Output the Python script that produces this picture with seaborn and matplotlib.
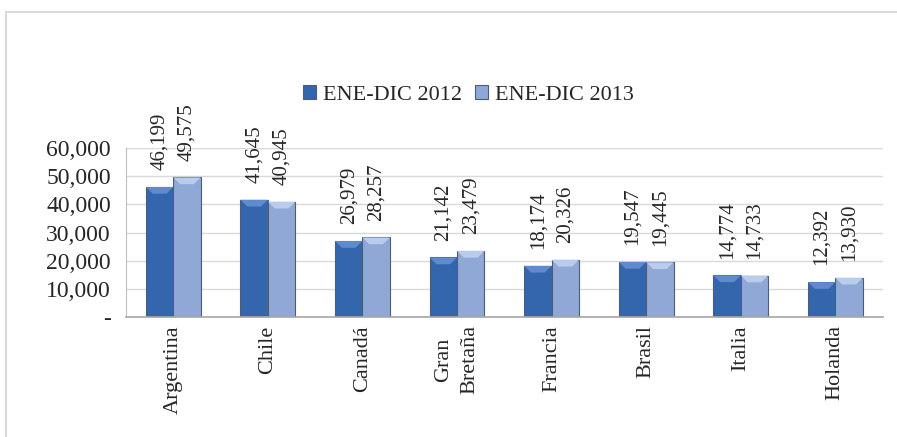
import matplotlib
matplotlib.use("Agg")
import matplotlib.pyplot as plt
import matplotlib.patches as mpatches
import seaborn as sns
import pandas as pd

countries = ["Argentina", "Chile", "Canadá", "Gran\nBretaña", "Francia", "Brasil", "Italia", "Holanda"]
values_2012 = [46199, 41645, 26979, 21142, 18174, 19547, 14774, 12392]
values_2013 = [49575, 40945, 28257, 23479, 20326, 19445, 14733, 13930]
series = ["ENE-DIC 2012", "ENE-DIC 2013"]
yticks = [0, 10000, 20000, 30000, 40000, 50000, 60000]

df = pd.DataFrame({
    "País": countries * 2,
    "Valor": values_2012 + values_2013,
    "Serie": [series[0]] * len(countries) + [series[1]] * len(countries),
})

sns.set_style("white")
plt.rcParams["font.family"] = ["Liberation Serif", "DejaVu Serif"]

fig = plt.figure(figsize=(8.97, 4.37), dpi=100)
ax = fig.add_axes([0.1405, 0.2746, 0.8435, 0.3865])

palette = {series[0]: "#3366AD", series[1]: "#8FA8D6"}
bevel = {series[0]: "#5F8ACB", series[1]: "#B9CCEB"}
sns.barplot(data=df, x="País", y="Valor", hue="Serie", palette=palette,
            width=0.58, ax=ax, edgecolor="#4a5d7c", linewidth=0.8, saturation=1)

# light bevel at the top of each bar
cap = 2400
for cont, name in zip(ax.containers, series):
    for p in cont.patches:
        x0, w, top = p.get_x(), p.get_width(), p.get_height()
        ax.add_patch(mpatches.Polygon(
            [(x0, top), (x0 + w, top), (x0 + w * 0.75, top - cap), (x0 + w * 0.25, top - cap)],
            closed=True, facecolor=bevel[name], edgecolor="none", zorder=p.get_zorder() + 0.1))

for cont in ax.containers:
    ax.bar_label(cont, labels=[f"{v:,.0f}" for v in cont.datavalues],
                 rotation=90, padding=12, fontsize=15)

ax.set_ylim(0, 60000)
ax.set_yticks(yticks)
ax.set_yticklabels(["-"] + [f"{v:,}" for v in yticks[1:]], fontsize=17)
ax.tick_params(axis="y", pad=11, length=0)
ax.tick_params(axis="x", length=0, pad=6)
ax.set_xticks(range(len(countries)))
ax.set_xticklabels(countries, rotation=90, fontsize=16, va="top", ha="center",
                   multialignment="center", linespacing=1.5)
ax.set_xlabel("")
ax.set_ylabel("")
ax.yaxis.grid(True, color="#D9D9D9", linewidth=1)
ax.set_axisbelow(True)
for side in ["top", "right"]:
    ax.spines[side].set_visible(False)
ax.spines["left"].set_color("#BFBFBF")
ax.spines["bottom"].set_color("#A6A6A6")
ax.spines["bottom"].set_linewidth(1.2)

handles, labels = ax.get_legend_handles_labels()
ax.legend(handles, labels, loc="center", bbox_to_anchor=(0.522, 0.783),
          bbox_transform=fig.transFigure, ncol=2, frameon=False, fontsize=16,
          handlelength=0.6, handleheight=0.6, handletextpad=0.3, columnspacing=0.6)

border = mpatches.Rectangle((0.0065, -0.1), 1.1, 1.1 - 12 / 437, transform=fig.transFigure,
                            fill=False, edgecolor="#D9D9D9", linewidth=1.5)
fig.patches.append(border)

fig.savefig("out.png", dpi=100)
